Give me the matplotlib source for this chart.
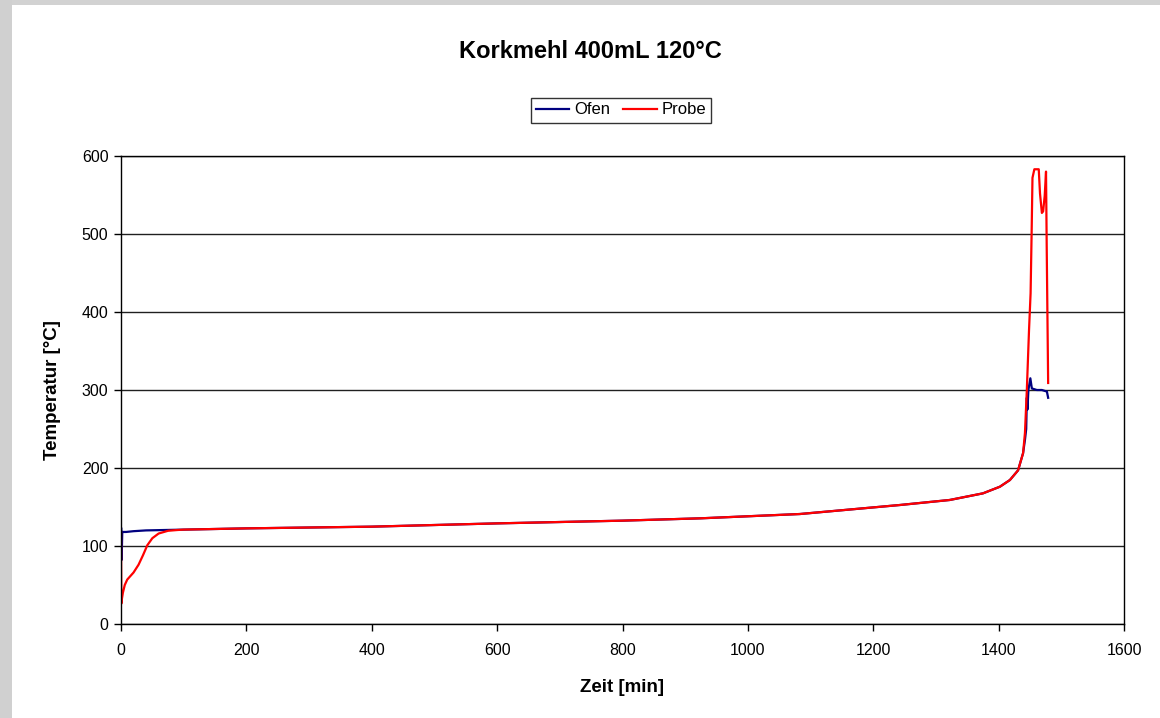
import matplotlib.pyplot as plt
from matplotlib.patches import Rectangle

# Zeit [min] / Temperatur [°C]
ofen_t = [0, 0.5, 1, 2, 4, 8, 20, 40, 100, 200, 400, 600, 800, 925, 1083, 1243, 1322,
          1375, 1402, 1418, 1431, 1439, 1442, 1444, 1445, 1446, 1447.5, 1450.6, 1453,
          1461, 1469, 1477, 1479]
ofen_T = [123, 123, 82, 118, 118, 118, 119, 120, 121, 122.6, 124.8, 129, 132.5, 135.5,
          141, 152.6, 159, 167.5, 176, 184.6, 197, 219, 236, 250, 290, 275, 300, 315,
          302, 300, 300, 298, 290]

probe_t = [0, 0.5, 1, 3, 6, 10, 20, 28, 35, 42, 50, 60, 75, 90, 100, 200, 400, 600, 800,
           925, 1083, 1243, 1322, 1375, 1402, 1418, 1431, 1439, 1442, 1445, 1448.5, 1451,
           1452.8, 1454, 1457, 1464, 1466, 1469, 1471, 1473.5, 1475.6, 1476.7, 1479]
probe_T = [118, 26, 30, 40, 50, 57, 66, 76, 88, 101, 110, 116, 119.5, 120.5, 121, 122.6,
           124.8, 129, 132.5, 135.5, 141, 152.6, 159, 167.5, 176, 184.6, 197, 219, 245,
           300, 377, 424, 509, 572, 583, 583, 552, 527, 529, 549, 580, 484, 309]

x_ticks = [0, 200, 400, 600, 800, 1000, 1200, 1400, 1600]
y_ticks = [0, 100, 200, 300, 400, 500, 600]

plt.rcParams['font.family'] = ['Liberation Sans', 'DejaVu Sans']

fig = plt.figure(figsize=(11.6, 7.18), dpi=100, facecolor='white')
# grey frame like the original screenshot
fig.patches.append(Rectangle((0, 1 - 5 / 718), 1, 5 / 718, transform=fig.transFigure,
                             facecolor='#d2d2d2', edgecolor='none', zorder=0))
fig.patches.append(Rectangle((0, 0), 12 / 1160, 1, transform=fig.transFigure,
                             facecolor='#d0d0d0', edgecolor='none', zorder=0))

ax = fig.add_axes([121 / 1160, 94 / 718, 1003 / 1160, 468 / 718])
ax.plot(ofen_t, ofen_T, color='#000080', lw=1.6, label='Ofen')
ax.plot(probe_t, probe_T, color='#ff0000', lw=1.6, label='Probe')

ax.set_xlim(0, 1600)
ax.set_ylim(0, 600)
ax.set_xticks(x_ticks)
ax.set_yticks(y_ticks)
ax.tick_params(labelsize=11.5, direction='out', length=5, width=1, colors='black')
ax.tick_params(axis='x', pad=9)
ax.tick_params(axis='y', pad=4)
ax.yaxis.grid(True, color='#202020', lw=1)
ax.set_axisbelow(True)
for s in ax.spines.values():
    s.set_color('black')
    s.set_linewidth(1)

ax.set_xlabel('Zeit [min]', fontsize=13.5, fontweight='bold', labelpad=15)
ax.set_ylabel('Temperatur [°C]', fontsize=13.5, fontweight='bold', labelpad=15)
fig.text(590 / 1160, 1 - 52 / 718, 'Korkmehl 400mL 120°C', fontsize=17,
         fontweight='bold', ha='center', va='center')

leg = fig.legend(loc='center', bbox_to_anchor=(621 / 1160, 1 - 110 / 718), ncol=2,
                 fontsize=12, frameon=True, fancybox=False, edgecolor='black',
                 handlelength=2.0, handletextpad=0.3, columnspacing=0.8,
                 borderpad=0.3, borderaxespad=0)
leg.get_frame().set_linewidth(1)

fig.savefig('out.png', dpi=100, facecolor='white')
